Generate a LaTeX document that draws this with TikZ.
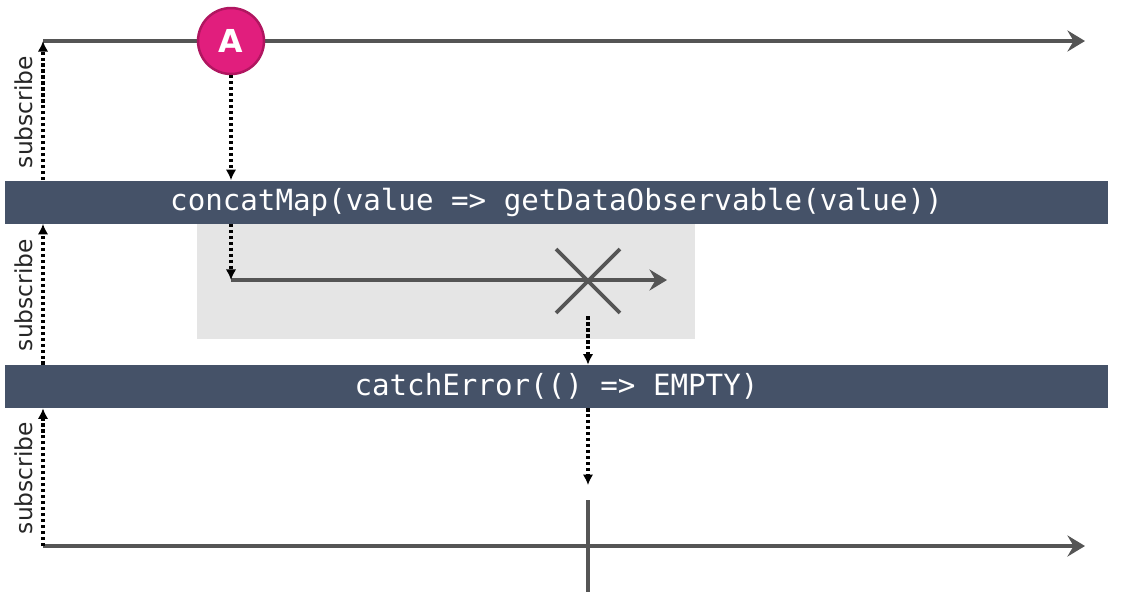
\documentclass[tikz,border=0pt]{standalone}
\usepackage{fontspec}
\setsansfont{DejaVu Sans}
\setmonofont{DejaVu Sans Mono}
\usetikzlibrary{arrows.meta,positioning,shapes.misc}
\definecolor{barblue}{RGB}{69,82,104}
\definecolor{linegray}{RGB}{85,85,85}
\definecolor{boxgray}{RGB}{229,229,229}
\definecolor{marblepink}{RGB}{225,30,125}
\definecolor{marbleedge}{RGB}{176,22,96}
\tikzset{
	timeline/.style={draw=linegray, line width=2.2pt, -{Stealth[length=10pt, width=12pt, inset=3.5pt]}},
	subarrow/.style={line width=2pt, dash pattern=on 1.8pt off 1.6pt, -{Latex[length=6pt, width=6pt]}},
	opbar/.style={fill=barblue, text=white, minimum width=22.06cm, minimum height=0.86cm, inner sep=0pt, font=\ttfamily\fontsize{16.6}{18}\selectfont},
	sublabel/.style={rotate=90, font=\sffamily\fontsize{13.3}{15}\selectfont, text=black!85},
	marble/.style={circle, fill=marblepink, draw=marbleedge, line width=1.4pt, minimum size=1.32cm, inner sep=0pt, text=white, font=\sffamily\bfseries\fontsize{18}{20}\selectfont}
}
\begin{document}
\begin{tikzpicture}[x=0.02cm, y=-0.02cm]
	\useasboundingbox (0,0) rectangle (1134,603);
	% inner observable
	\node[fill=boxgray, minimum width=9.96cm, minimum height=2.3cm, inner sep=0pt, anchor=north west] (innerbox) at (197,224) {};
	% operators
	\node[opbar] (concat) at (556.5,202) {concatMap(value => getDataObservable(value))};
	\node[opbar] (catch) at (556.5,386.5) {catchError(() => EMPTY)};
	% source
	\coordinate (src0) at (43,41);
	\coordinate (src1) at (1085,41);
	\draw[timeline] (src0) -- (src1);
	\node[marble] (A) at (231,41) {A};
	% inner stream
	\coordinate (in0) at (231,280);
	\coordinate (in1) at (667,280);
	\draw[timeline] (in0) -- (in1);
	\node[cross out, draw=linegray, line width=2.2pt, minimum size=1.2cm, inner sep=0pt] (err) at (588,281) {};
	% output
	\coordinate (out0) at (43,546);
	\coordinate (out1) at (1085,546);
	\draw[timeline] (out0) -- (out1);
	\coordinate (doneTop) at (588,500);
	\coordinate (doneBot) at (588,592);
	\draw[linegray, line width=2.2pt] (doneTop) -- (doneBot);
	% subscriptions
	\draw[subarrow] (concat.north -| src0) -- (src0);
	\draw[subarrow] (catch.north -| src0) -- (concat.south -| src0);
	\draw[subarrow] (out0) -- (catch.south -| out0);
	\node[sublabel] (sub1) at (24,112) {subscribe};
	\node[sublabel] (sub2) at (24,295) {subscribe};
	\node[sublabel] (sub3) at (24,478) {subscribe};
	% values
	\draw[subarrow] (A.south) -- (A.south |- concat.north);
	\draw[subarrow] (concat.south -| in0) -- (in0);
	\draw[subarrow] ([yshift=-2pt]err.south) -- (err |- catch.north);
	\draw[subarrow] (catch.south -| doneTop) -- ([yshift=8.5pt]doneTop);
\end{tikzpicture}
\end{document}
